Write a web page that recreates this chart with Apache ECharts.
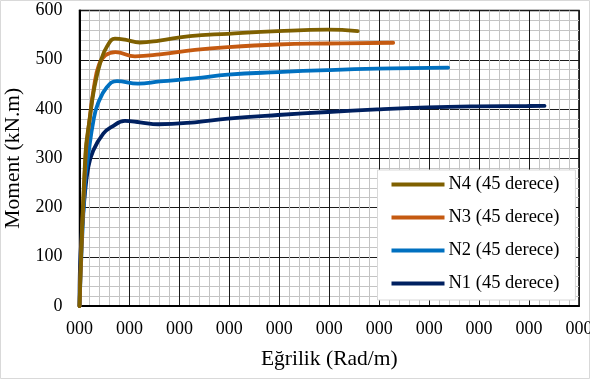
<!DOCTYPE html>
<html>
<head>
<meta charset="utf-8">
<script src="https://cdn.jsdelivr.net/npm/echarts@6/dist/echarts.min.js"></script>
<style>
  html, body { margin: 0; padding: 0; background: #fff; }
  #chart { width: 590px; height: 381px; }
</style>
</head>
<body>
<div id="chart"></div>
<script>
// Moment–curvature curves, x in axis units (one unit per major gridline)
const seriesNames = ['N1 (45 derece)', 'N2 (45 derece)', 'N3 (45 derece)', 'N4 (45 derece)'];
const seriesColors = ['#002060', '#0070C0', '#C55A11', '#7F6000'];

const n1 = [
  [0, 0], [0.01, 80], [0.044, 147], [0.096, 215], [0.176, 282], [0.276, 316],
  [0.476, 350], [0.644, 363.5], [0.91, 375.7], [1.21, 373], [1.576, 369],
  [2.31, 373], [2.97, 380.4], [3.97, 387.8], [4.97, 393.9], [5.96, 399.3],
  [6.96, 403.4], [7.94, 405.4], [8.94, 406], [9.31, 406.5]
];
const n2 = [
  [0, 0], [0.11, 249], [0.18, 309.5], [0.28, 377], [0.37, 411], [0.55, 444.5],
  [0.75, 456.8], [1.17, 451.4], [1.61, 456], [2.31, 462], [2.97, 469.6],
  [3.97, 475], [4.97, 479], [5.96, 481.8], [7.38, 484]
];
const n3 = [
  [0, 0], [0.12, 300], [0.2, 377], [0.29, 445], [0.39, 490], [0.52, 509],
  [0.72, 515.5], [1.11, 507], [1.61, 511], [2.31, 520], [2.97, 525.7],
  [3.97, 531], [4.97, 533], [6.28, 534.5]
];
const n4 = [
  [0, 0], [0.12, 310], [0.2, 377], [0.3, 445], [0.43, 499], [0.55, 527],
  [0.71, 543], [0.91, 541], [1.21, 535], [1.6, 539], [2.21, 548],
  [2.97, 552.7], [3.97, 558], [4.97, 561], [5.57, 558]
];

const xTickLabels = ['000', '000', '000', '000', '000', '000', '000', '000', '000', '000', '000'];
const yTickLabels = ['0', '100', '200', '300', '400', '500', '600'];

const seriesData = [n1, n2, n3, n4];
const serif = '"Liberation Serif", "DejaVu Serif", serif';

const chart = echarts.init(document.getElementById('chart'), null, { renderer: 'canvas' });

chart.setOption({
  animation: false,
  backgroundColor: '#ffffff',
  graphic: [{
    type: 'rect',
    shape: { x: 0.5, y: 0.5, width: 589, height: 378 },
    style: { fill: 'none', stroke: '#d9d9d9', lineWidth: 1 },
    silent: true
  }],
  grid: {
    left: 79.5, right: 11, top: 10.5, bottom: 75,
    containLabel: false,
    outerBoundsMode: 'none',
    show: true, borderColor: '#000', borderWidth: 1.5, backgroundColor: '#fff'
  },
  legend: {
    orient: 'vertical',
    left: 377.5, top: 170,
    padding: [5, 16, 7, 14],
    backgroundColor: '#ffffff',
    borderColor: '#d9d9d9',
    borderWidth: 1,
    borderRadius: 0,
    itemGap: 14,
    itemWidth: 53,
    itemHeight: 4,
    icon: 'rect',
    data: [seriesNames[3], seriesNames[2], seriesNames[1], seriesNames[0]],
    textStyle: { fontFamily: serif, fontSize: 18.5, color: '#000', padding: [0, 0, 0, -1] }
  },
  xAxis: {
    type: 'value',
    min: 0, max: 10, interval: 1,
    name: 'Eğrilik (Rad/m)',
    nameLocation: 'middle',
    nameGap: 42,
    nameTextStyle: { fontFamily: serif, fontSize: 21.5, color: '#000' },
    axisLine: { show: true, lineStyle: { color: '#000', width: 2 } },
    axisTick: { show: false },
    axisLabel: {
      fontFamily: serif, fontSize: 18, color: '#000', margin: 14,
      formatter: (v, i) => xTickLabels[i]
    },
    splitLine: { show: true, lineStyle: { color: '#1a1a1a', width: 1 } },
    minorTick: { show: false, splitNumber: 5 },
    minorSplitLine: { show: true, lineStyle: { color: '#c4c4c4', width: 1 } }
  },
  yAxis: {
    type: 'value',
    min: 0, max: 600, interval: 100,
    name: 'Moment (kN.m)',
    nameLocation: 'middle',
    nameGap: 50,
    nameTextStyle: { fontFamily: serif, fontSize: 21.5, color: '#000' },
    axisLine: { show: true, lineStyle: { color: '#000', width: 2 } },
    axisTick: { show: false },
    axisLabel: {
      fontFamily: serif, fontSize: 18, color: '#000', margin: 17,
      formatter: (v, i) => yTickLabels[i]
    },
    splitLine: { show: true, lineStyle: { color: '#1a1a1a', width: 1 } },
    minorTick: { show: false, splitNumber: 5 },
    minorSplitLine: { show: true, lineStyle: { color: '#c4c4c4', width: 1 } }
  },
  series: seriesData.map((d, k) => ({
    name: seriesNames[k],
    type: 'line',
    data: d,
    smooth: 0.45,
    showSymbol: false,
    symbol: 'none',
    color: seriesColors[k],
    lineStyle: { color: seriesColors[k], width: 3.8, cap: 'round' },
    z: 3
  }))
});
</script>
</body>
</html>
